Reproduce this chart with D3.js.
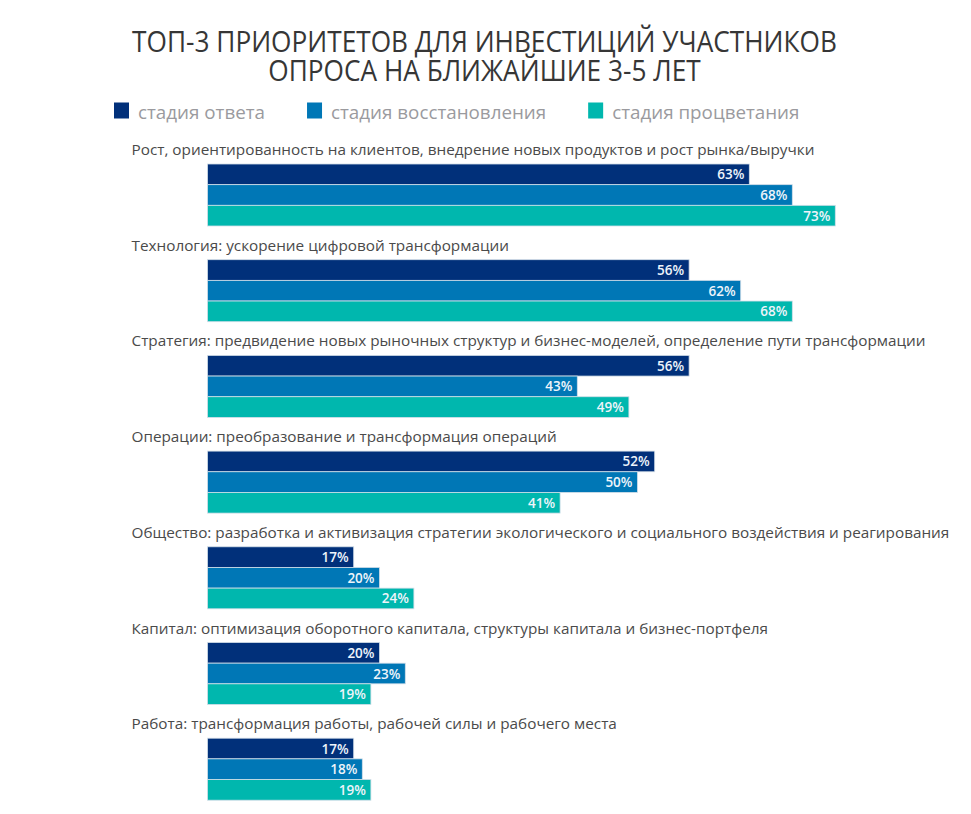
<!DOCTYPE html>
<html>
<head>
<meta charset="utf-8">
<script src="https://cdn.jsdelivr.net/npm/d3@7"></script>
<style>
  body { margin: 0; background: #fff; }
  text { font-family: "Open Sans", sans-serif; }
</style>
</head>
<body>
<div id="wrapper"></div>
<script>
// categories (top to bottom)
const categories = [
  "Рост, ориентированность на клиентов, внедрение новых продуктов и рост рынка/выручки",
  "Технология: ускорение цифровой трансформации",
  "Стратегия: предвидение новых рыночных структур и бизнес-моделей, определение пути трансформации",
  "Операции: преобразование и трансформация операций",
  "Общество: разработка и активизация стратегии экологического и социального воздействия и реагирования",
  "Капитал: оптимизация оборотного капитала, структуры капитала и бизнес-портфеля",
  "Работа: трансформация работы, рабочей силы и рабочего места"
]

// series
const seriesNames = ["стадия ответа", "стадия восстановления", "стадия процветания"]
const responseStage = [63, 56, 56, 52, 17, 20, 17]
const recoveryStage = [68, 62, 43, 50, 20, 23, 18]
const prosperityStage = [73, 68, 49, 41, 24, 19, 19]

const titleLines = ["ТОП-3 ПРИОРИТЕТОВ ДЛЯ ИНВЕСТИЦИЙ УЧАСТНИКОВ", "ОПРОСА НА БЛИЖАЙШИЕ 3-5 ЛЕТ"]

const colors = ["#01307a", "#0077b6", "#00b7ae"]

function drawChart(){
    const series = [responseStage, recoveryStage, prosperityStage]

    let dimensions = {
        width: 971,
        height: 814,
        barsLeft: 207.5,
        groupsTop: 164,
        groupStep: 95.7,
        groupBarsHeight: 62,
    }

    const wrapper = d3.select("#wrapper").append("svg")
        .attr("width", dimensions.width)
        .attr("height", dimensions.height)

    // title: one text, two lines
    const titleG = wrapper.append("g")
    const title = titleG.append("text")
        .attr("text-anchor", "middle")
        .attr("font-size", 30)
        .attr("fill", "#363636")
    title.selectAll("tspan")
        .data(titleLines)
        .join("tspan")
        .attr("x", 0)
        .attr("y", (d, i) => 52 + i * 29.5)
        .text(d => d)
    // the original title font is narrower, squeeze it horizontally
    const naturalWidth = title.select("tspan").node().getComputedTextLength()
    const sx = 705 / naturalWidth
    titleG.attr("transform", `translate(484.5,0) scale(${sx},1)`)

    // legend
    const legend = wrapper.append("g")
    let lx = 114
    seriesNames.forEach((name, i) => {
        legend.append("rect")
            .attr("x", lx)
            .attr("y", 102.5)
            .attr("width", 15)
            .attr("height", 16)
            .attr("fill", colors[i])
        const t = legend.append("text")
            .attr("x", lx + 24)
            .attr("y", 119)
            .attr("font-size", 18.8)
            .attr("fill", "#9a9a9e")
            .text(name)
        lx = lx + 24 + t.node().getComputedTextLength() + 42
    })

    // scales
    const xScale = d3.scaleLinear()
        .domain([0, 100])
        .range([dimensions.barsLeft, dimensions.barsLeft + 860])

    const yScale = d3.scaleBand()
        .domain(categories)
        .range([dimensions.groupsTop, dimensions.groupsTop + categories.length * dimensions.groupStep])

    const innerScale = d3.scaleBand()
        .domain(d3.range(series.length))
        .range([0, dimensions.groupBarsHeight])

    const groups = wrapper.append("g")
        .selectAll("g")
        .data(categories)
        .join("g")
        .attr("transform", d => `translate(0,${yScale(d)})`)

    groups.append("text")
        .attr("x", 131.5)
        .attr("y", -9)
        .attr("font-size", 15.3)
        .attr("fill", "#4a4a4a")
        .text(d => d)

    groups.each(function(cat, ci){
        const g = d3.select(this)
        const rows = series.map((s, si) => ({value: s[ci], si}))

        g.selectAll("rect")
            .data(rows)
            .join("rect")
            .attr("x", xScale(0))
            .attr("y", d => innerScale(d.si))
            .attr("width", d => xScale(d.value) - xScale(0))
            .attr("height", innerScale.bandwidth())
            .attr("fill", d => colors[d.si])
            .attr("stroke", "#d3dee8")
            .attr("stroke-width", 0.8)

        g.selectAll("text.val")
            .data(rows)
            .join("text")
            .attr("class", "val")
            .attr("x", d => xScale(d.value) - 5)
            .attr("y", d => innerScale(d.si) + innerScale.bandwidth() / 2 + 5)
            .attr("text-anchor", "end")
            .attr("font-size", 13.5)
            .attr("font-weight", 600)
            .attr("fill", "#eef4fa")
            .text(d => d.value + "%")
    })
}

drawChart()
</script>
</body>
</html>
